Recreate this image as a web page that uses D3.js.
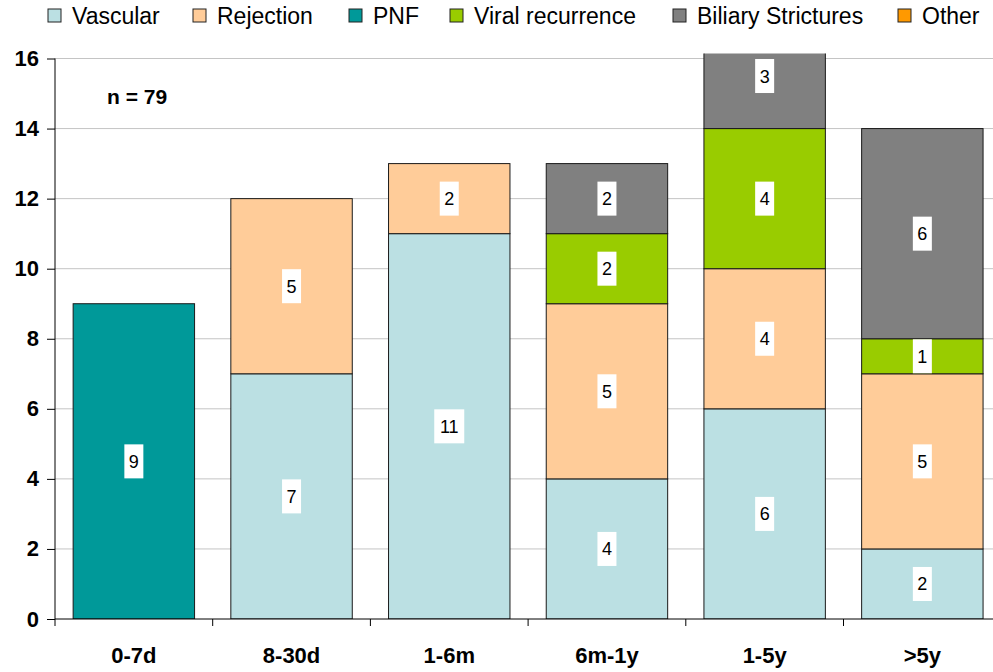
<!DOCTYPE html>
<head>
<meta charset="utf-8">
<style>
  body { margin: 0; background: #fff; }
  svg { font-family: "Liberation Sans", Arial, sans-serif; }
  .tick_label { font-size: 22px; font-weight: bold; }
  .bar_label { font-size: 18px; text-anchor: middle; }
  .legend_text { font-size: 23px; }
</style>
<title>Causes by interval</title>
</head>
<body>
<script src="https://cdn.jsdelivr.net/npm/d3@7"></script>
<script>
  // data
  var categories = ["0-7d", "8-30d", "1-6m", "6m-1y", "1-5y", ">5y"];
  var series = ["Vascular", "Rejection", "PNF", "Viral recurrence", "Biliary Strictures", "Other"];
  var vascular  = [0, 7, 11, 4, 6, 2];
  var rejection = [0, 5, 2, 5, 4, 5];
  var pnf       = [9, 0, 0, 0, 0, 0];
  var viral     = [0, 0, 0, 2, 4, 1];
  var biliary   = [0, 0, 0, 2, 3, 6];
  var other     = [0, 0, 0, 0, 0, 0];
  var yTicks = [0, 2, 4, 6, 8, 10, 12, 14, 16];
  var colors = ["#BBE0E3", "#FFCC99", "#009999", "#99CC00", "#808080", "#FF9900"];

  var width = 993, height = 672;
  var plotLeft = 55, plotTop = 58.5, plotBottom = 619;
  var catWidth = 157.7;

  var rows = categories.map(function(c, i) {
    return {cat: c, "Vascular": vascular[i], "Rejection": rejection[i], "PNF": pnf[i],
            "Viral recurrence": viral[i], "Biliary Strictures": biliary[i], "Other": other[i]};
  });
  var stacked = d3.stack().keys(series)(rows);

  var x = d3.scaleBand()
            .domain(categories)
            .range([plotLeft, plotLeft + catWidth * categories.length])
            .paddingInner(0.23)
            .paddingOuter(0.115);
  var y = d3.scaleLinear().domain([0, 16]).range([plotBottom, plotTop]);
  var color = d3.scaleOrdinal().domain(series).range(colors);

  var svg = d3.select("body").append("svg")
    .attr("width", width)
    .attr("height", height);

  svg.append("clipPath").attr("id", "plot_clip")
    .append("rect")
    .attr("x", plotLeft).attr("y", plotTop - 5)
    .attr("width", width - plotLeft).attr("height", plotBottom - plotTop + 5);

  // gridlines
  svg.append("g")
    .selectAll("line")
    .data(yTicks.filter(function(d) { return d > 0; }))
    .enter().append("line")
    .attr("x1", plotLeft).attr("x2", width)
    .attr("y1", function(d) { return y(d); })
    .attr("y2", function(d) { return y(d); })
    .attr("stroke", "#c4c4c4")
    .attr("stroke-width", 1);

  // bars
  var plot = svg.append("g").attr("clip-path", "url(#plot_clip)");
  plot.selectAll("g.layer")
    .data(stacked)
    .enter().append("g")
    .attr("class", "layer")
    .attr("fill", function(d) { return color(d.key); })
    .selectAll("rect")
    .data(function(d) { return d.filter(function(s) { return s[1] > s[0]; }); })
    .enter().append("rect")
    .attr("x", function(d) { return x(d.data.cat); })
    .attr("y", function(d) { return y(d[1]); })
    .attr("width", x.bandwidth())
    .attr("height", function(d) { return y(d[0]) - y(d[1]); })
    .attr("stroke", "#1a1a1a")
    .attr("stroke-width", 1);

  // value labels with white boxes
  var labels = [];
  stacked.forEach(function(layer) {
    layer.forEach(function(s) {
      if (s[1] > s[0]) labels.push({cat: s.data.cat, v: s[1] - s[0], mid: (s[0] + s[1]) / 2});
    });
  });
  var lab = plot.selectAll("g.lab").data(labels).enter().append("g")
    .attr("transform", function(d) {
      return "translate(" + (x(d.cat) + x.bandwidth() / 2) + "," + y(d.mid) + ")";
    });
  lab.append("rect")
    .attr("x", function(d) { return d.v >= 10 ? -15 : -9.5; })
    .attr("y", -17)
    .attr("width", function(d) { return d.v >= 10 ? 30 : 19; })
    .attr("height", 34)
    .attr("fill", "#fff");
  lab.append("text")
    .attr("class", "bar_label")
    .attr("y", 6.5)
    .text(function(d) { return d.v; });

  // y axis
  var yAxis = svg.append("g")
    .attr("transform", "translate(" + plotLeft + ",0)")
    .call(d3.axisLeft(y).tickValues(yTicks).tickSize(8).tickPadding(8));
  yAxis.select(".domain").attr("stroke", "#000").attr("d", "M0," + y(16) + "V" + plotBottom);
  yAxis.selectAll(".tick line").attr("stroke", "#000");
  yAxis.selectAll("text").attr("class", "tick_label").attr("fill", "#000");

  // x axis
  var xAxis = svg.append("g")
    .attr("transform", "translate(0," + plotBottom + ")")
    .call(d3.axisBottom(x).tickSize(0).tickPadding(28));
  xAxis.select(".domain").attr("stroke", "#000").attr("d", "M" + plotLeft + ",0H" + width);
  xAxis.selectAll("text").attr("class", "tick_label").attr("fill", "#000");
  xAxis.selectAll("line.sep")
    .data(categories)
    .enter().append("line")
    .attr("class", "sep")
    .attr("x1", function(d, i) { return plotLeft + i * catWidth; })
    .attr("x2", function(d, i) { return plotLeft + i * catWidth; })
    .attr("y1", 0).attr("y2", 7)
    .attr("stroke", "#000");

  // n label
  svg.append("text")
    .attr("x", 107).attr("y", 104)
    .style("font-size", "21px").style("font-weight", "bold")
    .text("n = 79");

  // legend
  var legendX = [48, 193, 349, 450, 673, 898];
  var legend = svg.append("g").selectAll("g")
    .data(series).enter().append("g")
    .attr("transform", function(d, i) { return "translate(" + legendX[i] + ",9)"; });
  legend.append("rect")
    .attr("width", 13).attr("height", 13)
    .attr("fill", function(d) { return color(d); })
    .attr("stroke", "#222").attr("stroke-width", 1);
  legend.append("text")
    .attr("class", "legend_text")
    .attr("x", 24).attr("y", 15)
    .text(function(d) { return d; });
</script>
</body>
